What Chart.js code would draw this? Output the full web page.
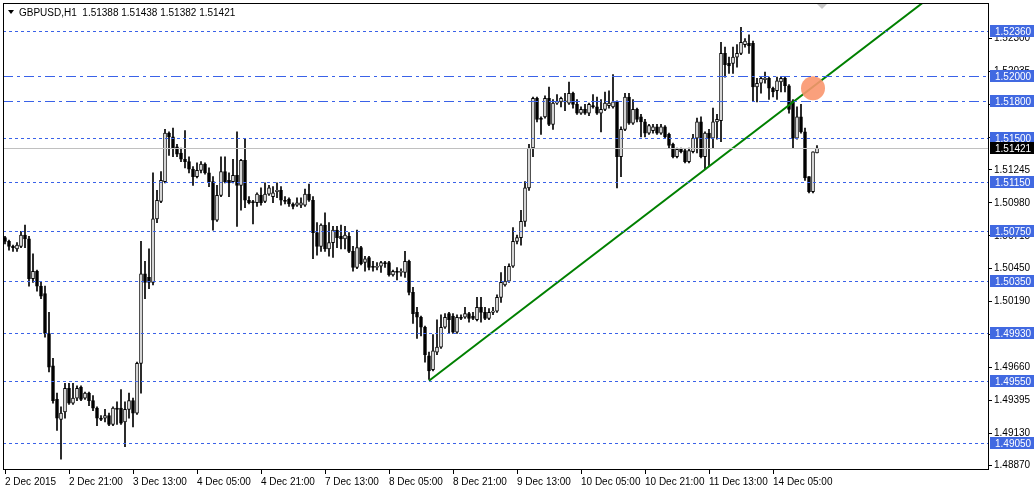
<!DOCTYPE html>
<html>
<head>
<meta charset="utf-8">
<script src="https://cdn.jsdelivr.net/npm/chart.js"></script>
<style>
  html, body { margin: 0; padding: 0; background: #fff; }
  #wrap { width: 1036px; height: 490px; }
</style>
</head>
<body>
<div id="wrap"><canvas id="c" width="1036" height="490"></canvas></div>
<script>
// GBPUSD H1 candles
const opens = [
1.5070,1.5067,1.5063,1.5061,1.5063,1.5072,1.5069,1.5037,1.5043,1.5031,
1.5025,1.4993,1.4967,1.4940,1.4924,1.4930,1.4949,1.4937,1.4941,1.4950,
1.4941,1.4945,1.4939,1.4933,1.4925,1.4925,1.4927,1.4920,1.4933,1.4933,
1.4922,1.4932,1.4939,1.4929,1.4969,1.5041,1.5038,1.5034,1.5085,1.5099,
1.5115,1.5154,1.5151,1.5143,1.5138,1.5133,1.5131,1.5125,1.5119,1.5124,
1.5129,1.5122,1.5115,1.5084,1.5104,1.5123,1.5116,1.5115,1.5120,1.5112,
1.5132,1.5100,1.5099,1.5098,1.5104,1.5099,1.5105,1.5103,1.5107,1.5108,
1.5100,1.5101,1.5097,1.5096,1.5096,1.5096,1.5105,1.5100,1.5074,1.5063,
1.5080,1.5061,1.5066,1.5076,1.5071,1.5069,1.5071,1.5059,1.5046,1.5062,
1.5050,1.5054,1.5047,1.5046,1.5047,1.5050,1.5050,1.5040,1.5043,1.5042,
1.5042,1.5051,1.5026,1.5010,1.5006,1.4998,1.4975,1.4964,1.4978,1.4982,1.4998,
1.5009,1.5007,1.4994,1.5006,1.5006,1.5009,1.5007,1.5004,1.5014,1.5010,
1.5005,1.5010,1.5011,1.5022,1.5032,1.5035,1.5047,1.5067,1.5070,1.5083,
1.5110,1.5142,1.5182,1.5166,1.5167,1.5182,1.5161,1.5178,1.5179,1.5180,
1.5178,1.5186,1.5177,1.5170,1.5173,1.5170,1.5176,1.5175,1.5170,1.5173,
1.5176,1.5175,1.5179,1.5135,1.5157,1.5183,1.5162,
1.5173,1.5167,1.5163,1.5154,1.5156,1.5159,1.5154,1.5159,1.5153,1.5145,
1.5135,1.5141,1.5140,1.5131,1.5139,1.5150,1.5163,1.5135,1.5154,1.5150,
1.5163,1.5164,1.5218,1.5210,1.5210,1.5215,1.5218,1.5225,1.5226,1.5226,
1.5191,1.5194,1.5197,1.5198,1.5190,1.5188,1.5195,1.5198,1.5192,1.5180,
1.5150,1.5167,1.5155,1.5119,1.5107,1.5138];
const highs = [
1.5071,1.5068,1.5064,1.5066,1.5075,1.5080,1.5071,1.5057,1.5044,1.5034,
1.5031,1.5010,1.4973,1.4945,1.4934,1.4953,1.4953,1.4953,1.4951,1.4951,
1.4946,1.4946,1.4943,1.4934,1.4927,1.4932,1.4929,1.4934,1.4938,1.4948,
1.4938,1.4945,1.4941,1.4970,1.5067,1.5051,1.5061,1.5122,1.5108,1.5123,
1.5157,1.5155,1.5158,1.5145,1.5142,1.5156,1.5135,1.5127,1.5130,1.5131,
1.5130,1.5126,1.5119,1.5112,1.5135,1.5135,1.5122,1.5133,1.5155,1.5133,
1.5149,1.5103,1.5100,1.5106,1.5110,1.5114,1.5112,1.5111,1.5114,1.5111,
1.5103,1.5102,1.5098,1.5102,1.5102,1.5109,1.5113,1.5103,1.5082,1.5081,
1.5090,1.5082,1.5079,1.5079,1.5080,1.5079,1.5074,1.5063,1.5076,1.5063,
1.5055,1.5055,1.5051,1.5050,1.5051,1.5051,1.5051,1.5044,1.5046,1.5045,
1.5059,1.5052,1.5030,1.5014,1.5007,1.4999,1.4978,1.4992,1.5004,1.5008,1.5009,
1.5010,1.5009,1.5008,1.5008,1.5014,1.5010,1.5010,1.5022,1.5022,1.5014,
1.5013,1.5014,1.5024,1.5042,1.5047,1.5049,1.5078,1.5072,1.5092,1.5115,
1.5145,1.5183,1.5183,1.5167,1.5184,1.5191,1.5181,1.5185,1.5183,1.5186,
1.5195,1.5187,1.5181,1.5175,1.5177,1.5178,1.5185,1.5183,1.5181,1.5187,
1.5188,1.5201,1.5180,1.5159,1.5186,1.5186,1.5181,
1.5174,1.5169,1.5165,1.5161,1.5161,1.5161,1.5161,1.5160,1.5154,1.5146,
1.5142,1.5142,1.5141,1.5142,1.5153,1.5166,1.5167,1.5155,1.5157,1.5174,
1.5169,1.5227,1.5223,1.5215,1.5223,1.5225,1.5239,1.5230,1.5233,1.5228,
1.5198,1.5199,1.5203,1.5199,1.5191,1.5199,1.5199,1.5199,1.5193,1.5181,
1.5175,1.5177,1.5158,1.5119,1.5139,1.5144];
const lows = [
1.5065,1.5060,1.5059,1.5059,1.5062,1.5062,1.5031,1.5034,1.5027,1.5021,
1.4990,1.4962,1.4937,1.4915,1.4892,1.4925,1.4936,1.4936,1.4939,1.4939,
1.4940,1.4935,1.4931,1.4919,1.4923,1.4922,1.4919,1.4919,1.4920,1.4920,
1.4902,1.4925,1.4918,1.4928,1.4945,1.5021,1.5029,1.5032,1.5082,1.5098,
1.5114,1.5136,1.5135,1.5135,1.5131,1.5126,1.5122,1.5112,1.5118,1.5122,
1.5121,1.5111,1.5076,1.5083,1.5103,1.5114,1.5103,1.5114,1.5079,1.5092,
1.5094,1.5097,1.5081,1.5095,1.5096,1.5098,1.5104,1.5098,1.5102,1.5096,
1.5097,1.5095,1.5093,1.5095,1.5094,1.5095,1.5099,1.5053,1.5056,1.5059,
1.5059,1.5055,1.5054,1.5062,1.5061,1.5061,1.5058,1.5043,1.5045,1.5048,
1.5043,1.5044,1.5043,1.5044,1.5042,1.5046,1.5039,1.5039,1.5036,1.5039,
1.5038,1.5024,1.5001,1.4989,1.4991,1.4970,1.4956,1.4963,1.4976,1.4981,1.4997,
1.4993,1.4993,1.4993,1.5004,1.5005,1.5002,1.5004,1.5003,1.5002,1.5004,
1.5004,1.5008,1.5010,1.5018,1.5031,1.5034,1.5046,1.5065,1.5064,1.5079,
1.5108,1.5135,1.5163,1.5153,1.5166,1.5160,1.5157,1.5177,1.5175,1.5172,
1.5177,1.5174,1.5169,1.5169,1.5169,1.5168,1.5174,1.5169,1.5155,1.5172,
1.5174,1.5174,1.5110,1.5119,1.5156,1.5161,1.5161,
1.5163,1.5151,1.5151,1.5153,1.5154,1.5153,1.5153,1.5150,1.5142,1.5134,
1.5134,1.5138,1.5130,1.5130,1.5138,1.5138,1.5134,1.5125,1.5127,1.5142,
1.5149,1.5147,1.5199,1.5202,1.5202,1.5207,1.5217,1.5223,1.5218,1.5180,
1.5179,1.5186,1.5194,1.5181,1.5183,1.5181,1.5187,1.5187,1.5170,1.5142,
1.5149,1.5154,1.5116,1.5106,1.5106,1.5138];
const closes = [
1.5067,1.5063,1.5062,1.5064,1.5072,1.5069,1.5037,1.5043,1.5031,1.5023,
1.4993,1.4966,1.4939,1.4925,1.4929,1.4949,1.4937,1.4941,1.4949,1.4940,
1.4945,1.4939,1.4933,1.4925,1.4924,1.4927,1.4920,1.4933,1.4932,1.4921,
1.4932,1.4939,1.4929,1.4969,1.5041,1.5034,1.5034,1.5085,1.5100,1.5116,
1.5154,1.5151,1.5142,1.5137,1.5133,1.5131,1.5125,1.5119,1.5124,1.5129,
1.5122,1.5115,1.5084,1.5104,1.5123,1.5115,1.5114,1.5120,1.5112,1.5132,
1.5100,1.5098,1.5098,1.5105,1.5098,1.5105,1.5110,1.5106,1.5108,1.5100,
1.5099,1.5097,1.5095,1.5098,1.5098,1.5105,1.5100,1.5074,1.5063,1.5080,
1.5061,1.5066,1.5076,1.5070,1.5069,1.5072,1.5059,1.5046,1.5062,1.5049,
1.5053,1.5046,1.5046,1.5047,1.5050,1.5049,1.5040,1.5043,1.5042,1.5043,
1.5051,1.5026,1.5009,1.5006,1.4998,1.4976,1.4963,1.4979,1.4982,1.4998,1.5006,
1.5004,1.4994,1.5006,1.5005,1.5009,1.5005,1.5005,1.5014,1.5010,1.5005,
1.5010,1.5011,1.5022,1.5034,1.5035,1.5047,1.5067,1.5070,1.5083,1.5110,
1.5142,1.5182,1.5165,1.5165,1.5182,1.5161,1.5178,1.5179,1.5182,1.5179,
1.5186,1.5177,1.5170,1.5173,1.5170,1.5177,1.5175,1.5170,1.5173,1.5178,
1.5178,1.5179,1.5135,1.5157,1.5183,1.5162,1.5173,
1.5165,1.5163,1.5154,1.5160,1.5159,1.5154,1.5159,1.5151,1.5144,1.5135,
1.5141,1.5139,1.5131,1.5140,1.5150,1.5163,1.5135,1.5154,1.5150,1.5163,
1.5165,1.5218,1.5209,1.5208,1.5215,1.5218,1.5227,1.5228,1.5224,1.5191,
1.5194,1.5198,1.5198,1.5190,1.5187,1.5196,1.5198,1.5192,1.5173,1.5150,
1.5167,1.5155,1.5118,1.5107,1.5139,1.5142];

// time labels every 16 bars
const timeLabels = ['2 Dec 2015','2 Dec 21:00','3 Dec 13:00','4 Dec 05:00','4 Dec 21:00','7 Dec 13:00',
  '8 Dec 05:00','8 Dec 21:00','9 Dec 13:00','10 Dec 05:00','10 Dec 21:00','11 Dec 13:00','14 Dec 05:00'];
const priceTicks = [1.52300,1.52035,1.51770,1.51505,1.51245,1.50980,1.50715,1.50450,1.50190,1.49925,1.49660,1.49395,1.49130,1.48870];
const levels = [1.52360,1.52000,1.51800,1.51500,1.51150,1.50750,1.50350,1.49930,1.49550,1.49050];
const dashDotLevels = [1.52000,1.51800];
const lastPrice = 1.51421;
const trendLine = [{x:106, y:1.4955}, {x:232, y:1.5265}];
const marker = [{x:202, y:1.5190}];

const wicks = opens.map((o, i) => ({x: i, y: [lows[i], highs[i]]}));
const bodies = opens.map((o, i) => ({x: i, y: [o, closes[i] === o ? o + 0.00002 : closes[i]]}));
const bodyFill = opens.map((o, i) => closes[i] >= o ? '#ffffff' : '#000000');

const FONT = {family: 'Liberation Sans', size: 10};

const overlay = {
  id: 'overlay',
  afterDatasetsDraw(chart) {
    const {ctx, chartArea: a, scales: {y}} = chart;
    ctx.save();
    // horizontal levels
    ctx.lineWidth = 1;
    levels.forEach(v => {
      const py = Math.round(y.getPixelForValue(v)) + 0.5;
      ctx.strokeStyle = '#3a62e8';
      ctx.setLineDash(dashDotLevels.includes(v) ? [10, 4, 3, 4] : [3, 3]);
      ctx.beginPath(); ctx.moveTo(a.left, py); ctx.lineTo(a.right, py); ctx.stroke();
    });
    ctx.setLineDash([]);
    const lp = Math.round(y.getPixelForValue(lastPrice)) + 0.5;
    ctx.strokeStyle = '#c0c0c0';
    ctx.beginPath(); ctx.moveTo(a.left, lp); ctx.lineTo(a.right, lp); ctx.stroke();
    // frame
    ctx.strokeStyle = '#000';
    ctx.strokeRect(a.left + 0.5, a.top + 0.5, a.right - a.left - 1, a.bottom - a.top - 1);
    // level boxes
    ctx.font = '10px "Liberation Sans"';
    ctx.textBaseline = 'middle';
    const box = (v, bg) => {
      const py = Math.round(y.getPixelForValue(v));
      ctx.fillStyle = bg;
      ctx.fillRect(a.right + 1, py - 6, 44, 12);
      ctx.fillStyle = '#fff';
      ctx.fillText(v.toFixed(5), a.right + 6, py + 1);
    };
    levels.forEach(v => box(v, '#4169e1'));
    box(lastPrice, '#000');
    // title
    ctx.fillStyle = '#000';
    ctx.beginPath(); ctx.moveTo(8, 10); ctx.lineTo(14, 10); ctx.lineTo(11, 14); ctx.closePath(); ctx.fill();
    ctx.fillText('GBPUSD,H1  1.51388 1.51438 1.51382 1.51421', 19, 13);
    // shift marker
    ctx.fillStyle = '#c8c8c8';
    ctx.beginPath(); ctx.moveTo(817, 4); ctx.lineTo(827, 4); ctx.lineTo(822, 9); ctx.closePath(); ctx.fill();
    ctx.restore();
  }
};

new Chart(document.getElementById('c'), {
  data: {
    datasets: [
      {type: 'scatter', data: marker, pointRadius: 12, pointBackgroundColor: 'rgba(250,150,110,0.9)', pointBorderWidth: 0, order: 0},
      {type: 'line', data: trendLine, borderColor: '#008000', borderWidth: 2, pointRadius: 0, order: 1},
      {type: 'bar', data: bodies, backgroundColor: bodyFill, borderColor: '#000', borderWidth: 1, borderSkipped: false,
       barThickness: 3, grouped: false, order: 2},
      {type: 'bar', data: wicks, backgroundColor: '#000', borderWidth: 0, barThickness: 1, grouped: false, order: 3}
    ]
  },
  options: {
    responsive: false,
    devicePixelRatio: 1,
    animation: false,
    layout: {autoPadding: false, padding: {left: 3, top: 3, right: 0, bottom: 0}},
    plugins: {legend: {display: false}, tooltip: {enabled: false}},
    scales: {
      x: {
        type: 'linear', min: -0.5, max: 246, offset: false,
        afterBuildTicks: s => { s.ticks = timeLabels.map((t, i) => ({value: i * 16})); },
        afterFit: s => { s.height = 20; s.paddingLeft = 0; s.paddingRight = 0; },
        ticks: {autoSkip: false, maxRotation: 0, align: 'start', padding: 2, color: '#000', font: FONT,
                callback: v => timeLabels[Math.round(v / 16)] || ''},
        grid: {drawOnChartArea: false, tickLength: 4, color: '#000', offset: false},
        border: {display: false}
      },
      y: {
        position: 'right', min: 1.48833, max: 1.52585,
        afterBuildTicks: s => { s.ticks = priceTicks.map(v => ({value: v})); },
        // no extra room for the edge labels, the frame starts right at the top
        afterFit: s => { s.width = 47; s.paddingTop = 0; s.paddingBottom = 0; },
        ticks: {autoSkip: false, padding: 2, color: '#000', font: FONT, callback: v => v.toFixed(5)},
        grid: {drawOnChartArea: false, tickLength: 3, color: '#000'},
        border: {display: false}
      }
    }
  },
  plugins: [overlay]
});
</script>
</body>
</html>
